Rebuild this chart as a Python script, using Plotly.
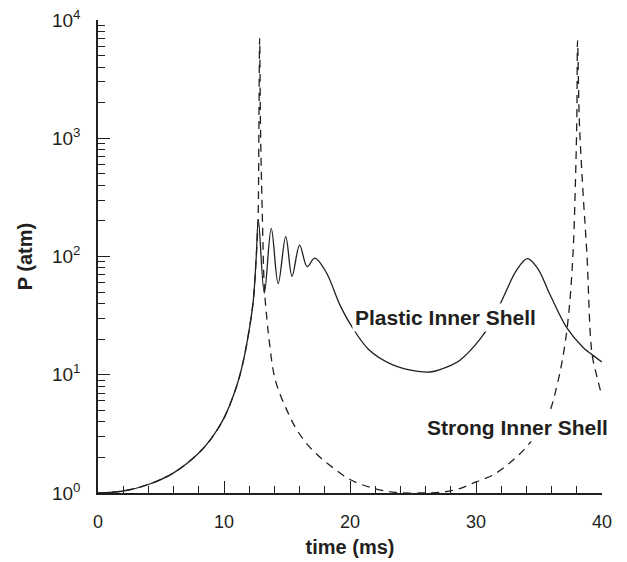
import plotly.graph_objects as go

# ---- data ----
time_plastic = [0, 2, 4, 6, 8, 9, 10, 11, 11.5, 12, 12.33, 12.55, 12.73, 13.2, 13.75, 14.3, 14.9,
                15.4, 16.0, 16.6, 17.2, 18.1, 19.2, 20.1, 21.5, 23.35, 25.4, 26.5, 28, 28.7,
                30.26, 31.3, 32.3, 33.2, 34.08, 34.9, 35.9, 37.2, 38.5, 39.2, 40]
p_plastic = [1.0, 1.04, 1.18, 1.48, 2.18, 2.9, 4.3, 8.0, 12.6, 24, 43, 95, 204, 49, 173, 59, 147,
             68, 125, 82, 97, 74, 39, 26, 16.3, 12.2, 10.7, 10.6, 12.0, 13.2,
             19.6, 28.8, 48.5, 76, 96, 79, 47, 25, 17, 14.8, 12.8]

time_strong = [0, 2, 4, 6, 8, 9, 10, 11, 11.5, 12, 12.33, 12.55, 12.7, 12.77, 12.83, 12.9, 13.05,
               13.2, 13.4, 13.6, 14.06, 14.97, 15.87, 17.03, 18.45, 20, 21.8, 23.6, 25.5, 27.4,
               28.7, 30, 31.3, 32.6, 34.0, 35.7, 36.46, 36.98, 37.36, 37.7, 37.88, 38.0, 38.06,
               38.2, 38.47, 38.8, 39.2, 39.6, 40]
p_strong = [1.0, 1.04, 1.18, 1.48, 2.18, 2.9, 4.3, 8.0, 12.6, 24, 43, 95, 204, 1180, 7000, 1180, 204,
            55, 30, 19, 9.1, 5.07, 3.3, 2.3, 1.7, 1.3, 1.1, 1.01, 1.0, 1.02,
            1.09, 1.24, 1.41, 1.77, 2.45, 4.5, 8.4, 16, 33, 106, 385, 1420, 6700,
            1420, 385, 106, 15.3, 9.6, 6.6]

y_tick_vals = [1, 10, 100, 1000, 10000]
y_tick_text = ["10<sup>0</sup>", "10<sup>1</sup>", "10<sup>2</sup>", "10<sup>3</sup>", "10<sup>4</sup>"]
x_tick_vals = [0, 10, 20, 30, 40]

FONT = "Arial, 'Liberation Sans', sans-serif"
INK = "#231f20"

fig = go.Figure()
fig.add_trace(go.Scatter(x=time_strong, y=p_strong, mode="lines",
                         line=dict(color=INK, width=1.3, dash="8px,6px", shape="spline", smoothing=1.0),
                         showlegend=False))
fig.add_trace(go.Scatter(x=time_plastic, y=p_plastic, mode="lines",
                         line=dict(color=INK, width=1.3, shape="spline", smoothing=1.0),
                         showlegend=False))

fig.add_annotation(x=27.6, y=1.488, xref="x", yref="y", text="<b>Plastic Inner Shell</b>",
                   showarrow=False, font=dict(size=21, color=INK, family=FONT),
                   bgcolor="white", borderpad=2)
fig.add_annotation(x=33.3, y=0.558, xref="x", yref="y", text="<b>Strong Inner Shell</b>",
                   showarrow=False, font=dict(size=21, color=INK, family=FONT),
                   bgcolor="white", borderpad=2)

fig.update_layout(
    width=627, height=562,
    margin=dict(l=98, r=25, t=20, b=69, autoexpand=False),
    paper_bgcolor="white", plot_bgcolor="white",
    font=dict(family=FONT, color=INK),
    xaxis=dict(range=[0, 40], tickvals=x_tick_vals, showline=True, linecolor=INK, linewidth=1.5,
               ticks="inside", ticklen=12, tickwidth=1.3, tickcolor=INK, automargin=False,
               minor=dict(ticks="inside", ticklen=7, tickwidth=1.3, tickcolor=INK, dtick=2, tick0=0, showgrid=False),
               showgrid=False, zeroline=False, tickfont=dict(size=18), ticklabelstandoff=12,
               title=dict(text="<b>time (ms)</b>", font=dict(size=20), standoff=9)),
    yaxis=dict(type="log", range=[0, 4], tickvals=y_tick_vals, ticktext=y_tick_text,
               showline=True, linecolor=INK, linewidth=1.5, automargin=False,
               ticks="inside", ticklen=12, tickwidth=1.3, tickcolor=INK,
               minor=dict(ticks="inside", ticklen=7, tickwidth=1.3, tickcolor=INK, dtick="D1", showgrid=False),
               showgrid=False, zeroline=False, tickfont=dict(size=19), ticklabelstandoff=12,
               title=dict(text="<b>P (atm)</b>", font=dict(size=20), standoff=14)),
)

fig.write_html("out.html")
